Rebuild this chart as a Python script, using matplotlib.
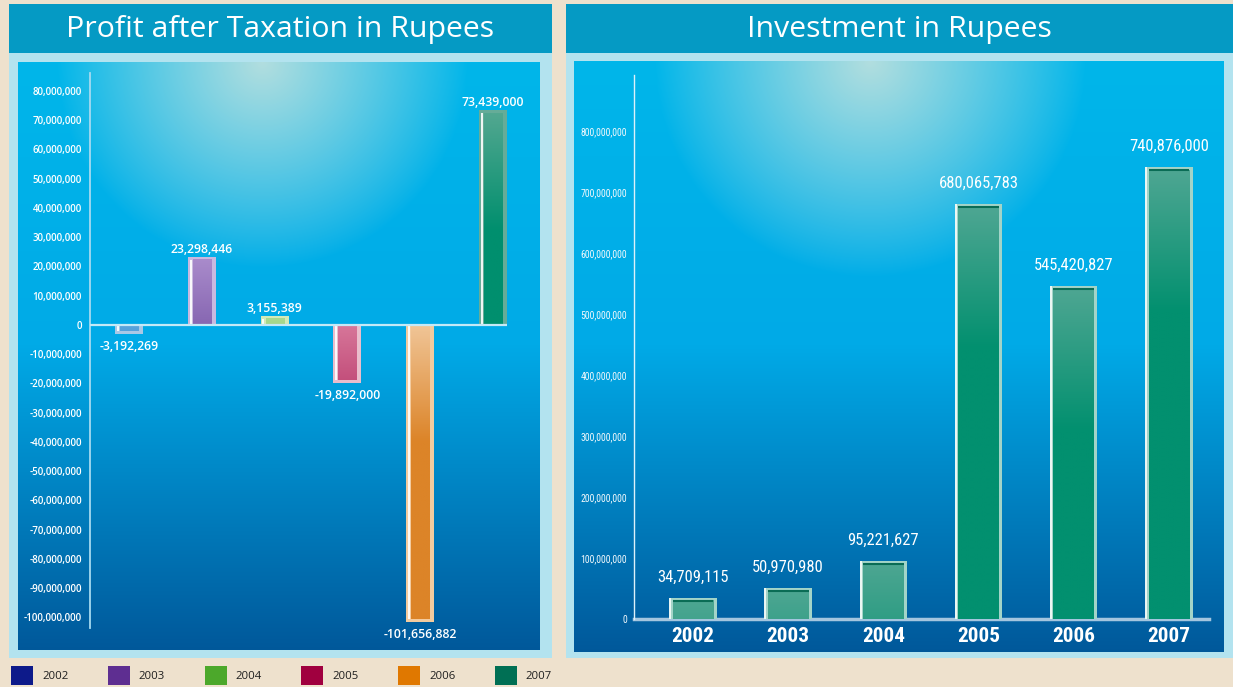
"""
Two annual-report bar panels: profit after tax and investment, 2002-2007.
"""

import os

import numpy as np
import matplotlib
matplotlib.use("Agg")
import matplotlib.pyplot as plt
from matplotlib import font_manager as fm
from matplotlib.colors import to_rgb
from matplotlib.patches import Rectangle, Patch
from matplotlib.ticker import FuncFormatter


# ============================================================
# DATA
# ============================================================

years = ["2002", "2003", "2004", "2005", "2006", "2007"]
profit = [-3192269, 23298446, 3155389, -19892000, -101656882, 73439000]
investment = [34709115, 50970980, 95221627, 680065783, 545420827, 740876000]

profit_ticks = list(range(80_000_000, -100_000_001, -10_000_000))
invest_ticks = list(range(0, 800_000_001, 100_000_000))

# colours
legend_colors = ["#0D1A8A", "#5E2E91", "#4CA82B", "#A0003F", "#E07800", "#006F54"]
profit_dark = ["#1C6CBC", "#6C4A9E", "#5DB344", "#AE245A", "#DC8428", "#008F6E"]
profit_light = ["#5AA4DC", "#A98BCB", "#A9D98F", "#D7779A", "#F0C597", "#52A790"]
profit_edge = ["#A9C8E6", "#C9B9DF", "#D3EAB8", "#EABDCC", "#F3CB9F", "#66AC98"]

BG = "#EEE1CD"
HEADER = "#059AC4"
FRAME = "#B3E3EF"

W, H = 1233, 687


# ============================================================
# FONTS
# ============================================================

def find_font(keys, bold):
    """Return the file of the first installed narrow face matching keys."""
    skip = ("italic", "oblique", "light", "thin", "medium", "black",
            "semibold", "extrabold", "demi")
    for key in keys:
        for f in fm.fontManager.ttflist:
            base = os.path.basename(f.fname).replace("_", "").replace(" ", "").lower()
            if key.lower() not in base:
                continue
            if ("bold" in base) != bold:
                continue
            if any(s in base for s in skip):
                continue
            return f.fname
    return None


NARROW_KEYS = [("liberationsansnarrow", 1.0), ("robotocondensed", 0.95),
               ("opensanscondensed", 0.95), ("dejavusanscondensed", 0.82)]


def narrow(size, bold=False):
    for key, scale in NARROW_KEYS:
        path = find_font([key], bold)
        if path:
            return fm.FontProperties(fname=path, size=size * scale)
    return fm.FontProperties(family="DejaVu Sans",
                             weight="bold" if bold else "normal",
                             size=size * 0.72)


def humanist(size, weight="normal"):
    return fm.FontProperties(family=["Open Sans", "DejaVu Sans"],
                             weight=weight, size=size)


# ============================================================
# HELPERS
# ============================================================

def box(x0, y0, x1, y1):
    """Pixel box (top-left origin) -> figure fraction [l, b, w, h]."""
    return [x0 / W, 1 - y1 / H, (x1 - x0) / W, (y1 - y0) / H]


def add_rect(fig, x0, y0, x1, y1, color):
    l, b, w, h = box(x0, y0, x1, y1)
    fig.add_artist(Rectangle((l, b), w, h, transform=fig.transFigure,
                             facecolor=color, edgecolor="none", zorder=0))


def panel_background(fig, x0, y0, x1, y1, cx, radius):
    """Blue backdrop with a pale glow at the top centre."""
    ax = fig.add_axes(box(x0, y0, x1, y1), zorder=0)
    w, h = x1 - x0, y1 - y0
    yy, xx = np.mgrid[0:h, 0:w].astype(float)
    t = yy / h
    top, mid, bot = (np.array(to_rgb(c)) for c in ("#00B6EA", "#00AAE7", "#00589A"))
    base = np.empty((h, w, 3))
    for k in range(3):
        base[..., k] = np.interp(t, [0.0, 0.48, 1.0], [top[k], mid[k], bot[k]])
    d = np.hypot(xx - (cx - x0), yy) / radius
    glow = np.clip(1 - d, 0, 1) ** 0.9
    pale = np.array(to_rgb("#B2DEDF"))
    img = base * (1 - glow[..., None]) + pale * glow[..., None]
    ax.imshow(img, extent=[0, 1, 0, 1], aspect="auto", interpolation="bilinear")
    ax.axis("off")
    return ax


def gradient_bar(ax, patch, light, dark, fade, z):
    """Paint a vertical light-to-dark gradient over a bar patch."""
    x0, w = patch.get_x(), patch.get_width()
    y0, h = patch.get_y(), patch.get_height()
    if h < 0:
        y0, h = y0 + h, -h
    if h <= 0:
        return
    n = 128
    depth = np.linspace(0, h, n)[:, None]
    s = np.clip(depth / fade, 0, 1)
    c0, c1 = np.array(to_rgb(light)), np.array(to_rgb(dark))
    img = c0 * (1 - s[..., None]) + c1 * s[..., None]
    ax.imshow(img, extent=[x0, x0 + w, y0, y0 + h], aspect="auto",
              origin="upper", interpolation="bilinear", zorder=z)


def px_to_data(ax, px, plot_px_height):
    lo, hi = ax.get_ylim()
    return px * (hi - lo) / plot_px_height


comma = FuncFormatter(lambda v, _: f"{int(v):,}")


# ============================================================
# FIGURE
# ============================================================

fig = plt.figure(figsize=(W / 100, H / 100), dpi=100)
fig.patch.set_facecolor(BG)

# panel chrome
add_rect(fig, 9, 4, 552, 53, HEADER)
add_rect(fig, 9, 53, 552, 658, FRAME)
add_rect(fig, 566, 4, 1233, 53, HEADER)
add_rect(fig, 566, 53, 1233, 658, FRAME)

panel_background(fig, 18, 62, 540, 650, cx=262, radius=205)
panel_background(fig, 574, 61, 1224, 652, cx=870, radius=215)

fig.text(280.5 / W, 1 - 37 / H, "Profit after Taxation in Rupees",
         fontproperties=humanist(21.8), color="white",
         ha="center", va="baseline")
fig.text(899.5 / W, 1 - 37 / H, "Investment in Rupees",
         fontproperties=humanist(21.8), color="white",
         ha="center", va="baseline")


# ------------------------------------------------------------
# LEFT: profit after taxation
# ------------------------------------------------------------

axL = fig.add_axes(box(90, 73, 507, 628), zorder=2)
axL.set_facecolor("none")
x = np.arange(len(years))
axL.set_xlim(-0.536, 5.192)
axL.set_ylim(-103.6e6, 86.15e6)

outer = axL.bar(x, profit, width=0.385, color=profit_edge, zorder=2)
inset = px_to_data(axL, 3, 628 - 73)
inner_vals = [v - np.sign(v) * inset for v in profit]
inner = axL.bar(x, inner_vals, width=0.25, color=profit_dark, zorder=3)
for p, lt, dk in zip(inner, profit_light, profit_dark):
    gradient_bar(axL, p, lt, dk, fade=40e6, z=3.5)
    axL.vlines(p.get_x() - 0.03, 0, p.get_height(), color="white",
               linewidth=1.3, zorder=3.6)

axL.axhline(0, color="#C4E9F7", linewidth=1.6, zorder=5)

for xi, v in zip(x, profit):
    if v >= 0:
        axL.annotate(f"{v:,}", (xi, v), xytext=(0, 0.5),
                     textcoords="offset points", ha="center", va="bottom",
                     color="white", fontproperties=humanist(8.8, "semibold"),
                     zorder=6)
    else:
        axL.annotate(f"{v:,}", (xi, v), xytext=(0, -4.3),
                     textcoords="offset points", ha="center", va="top",
                     color="white", fontproperties=humanist(8.8, "semibold"),
                     zorder=6)

axL.set_yticks(profit_ticks)
axL.yaxis.set_major_formatter(comma)
axL.set_xticks([])
axL.tick_params(axis="y", length=0, pad=5.8, colors="white")
for lbl in axL.get_yticklabels():
    lbl.set_fontproperties(humanist(7.0, "semibold"))
for side in ("top", "right", "bottom"):
    axL.spines[side].set_visible(False)
axL.spines["left"].set_color("#A6DAF0")
axL.spines["left"].set_linewidth(1.3)


# ------------------------------------------------------------
# RIGHT: investment
# ------------------------------------------------------------

axR = fig.add_axes(box(634, 75, 1209, 619), zorder=2)
axR.set_facecolor("none")
axR.set_xlim(-0.62, 5.42)
axR.set_ylim(0, 891.8e6)

outerR = axR.bar(x, investment, width=0.494, color="#A3D4C8", zorder=2)
insetR = px_to_data(axR, 3, 619 - 75)
innerR = axR.bar(x, [v - insetR for v in investment], width=0.43,
                 color="#02906F", zorder=3)
for p in innerR:
    gradient_bar(axR, p, "#4DA692", "#02906F", fade=230e6, z=3.5)
    top = p.get_height()
    axR.hlines(top, p.get_x(), p.get_x() + p.get_width(),
               color="#0A6C55", linewidth=1.5, zorder=3.7)
for p in outerR:
    axR.vlines(p.get_x() + 0.008, 0, p.get_height(), color="#EEF8F5",
               linewidth=1.4, zorder=3.8)

for xi, v in zip(x, investment):
    axR.annotate(f"{v:,}", (xi, v), xytext=(0, 9.4),
                 textcoords="offset points", ha="center", va="bottom",
                 color="white", fontproperties=narrow(12.5), zorder=6)

axR.set_yticks(invest_ticks)
axR.yaxis.set_major_formatter(comma)
axR.set_xticks(x)
axR.set_xticklabels(years)
axR.tick_params(axis="y", length=0, pad=5, colors="#F0F8FC")
axR.tick_params(axis="x", length=0, pad=6, colors="white")
for lbl in axR.get_yticklabels():
    lbl.set_fontproperties(narrow(7.4))
for lbl in axR.get_xticklabels():
    lbl.set_fontproperties(narrow(16, bold=True))
for side in ("top", "right"):
    axR.spines[side].set_visible(False)
axR.spines["left"].set_color("#DDF1FA")
axR.spines["left"].set_linewidth(1.0)
axR.spines["bottom"].set_color("#A4C6DF")
axR.spines["bottom"].set_linewidth(2.5)
axR.spines["bottom"].set_zorder(1)


# ------------------------------------------------------------
# LEGEND (year swatches along the bottom edge)
# ------------------------------------------------------------

fs = 8.2
em = fs * 100 / 72
handles = [Patch(facecolor=c, edgecolor="none", label=y)
           for c, y in zip(legend_colors, years)]
leg = fig.legend(handles=handles, ncol=6, loc="upper left",
                 bbox_to_anchor=(11 / W, 1 - 666 / H), frameon=False,
                 borderpad=0, borderaxespad=0, handlelength=22 / em,
                 handleheight=25 / em, handletextpad=9 / em,
                 columnspacing=39.5 / em, prop=humanist(fs))
for t in leg.get_texts():
    t.set_color("#1E1E1E")

fig.savefig("out.png", dpi=100, facecolor=BG)
